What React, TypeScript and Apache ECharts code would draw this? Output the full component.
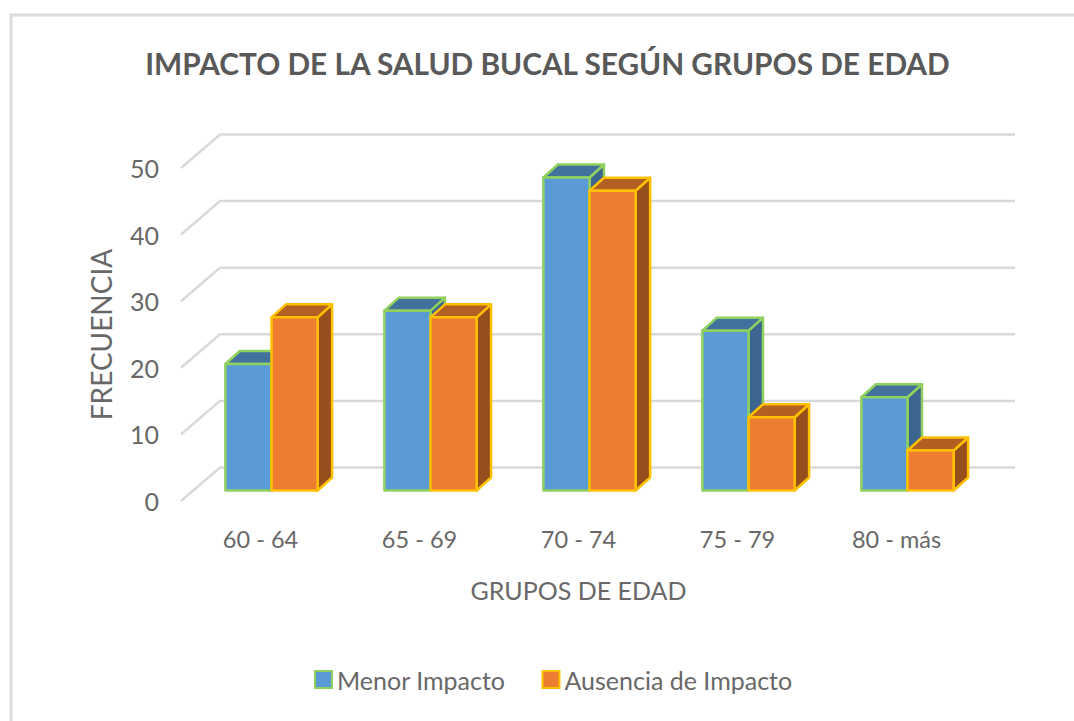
import React, { useEffect, useRef } from "react";
import * as echarts from "echarts";

const categories = ["60 - 64", "65 - 69", "70 - 74", "75 - 79", "80 - más"];
const menorImpacto = [19, 27, 47, 24, 14];
const ausenciaImpacto = [26, 26, 45, 11, 6];
const gridTicks = [0, 10, 20, 30, 40, 50];
const FONT = "Lato, 'Open Sans', sans-serif";
const LABEL = "#686868";

const WALL_DX = 39;
const WALL_DY = 33.5;
const BAR_PLANE_DX = 11;
const BAR_PLANE_DY = 10.5;
const BAR_DEPTH_DX = 14.5;
const BAR_DEPTH_DY = 13;

function barRenderer(slot: number, face: string, top: string, side: string, border: string) {
  return (params: any, api: any) => {
    const idx = api.value(0);
    const [cx, y0] = api.coord([idx, 0]);
    const [, y1] = api.coord([idx, api.value(1)]);
    const w = api.size([1, 0])[0] * 0.29;
    const left = cx + BAR_PLANE_DX + (slot === 0 ? -w : 0);
    const right = left + w;
    const bottom = y0 - BAR_PLANE_DY;
    const up = y1 - BAR_PLANE_DY;
    const dx = BAR_DEPTH_DX;
    const dy = BAR_DEPTH_DY;
    const line = { stroke: border, lineWidth: 2.5, lineJoin: "round" };
    return {
      type: "group",
      children: [
        {
          type: "polygon",
          shape: { points: [[right, bottom], [right + dx, bottom - dy], [right + dx, up - dy], [right, up]] },
          style: { fill: side, ...line },
        },
        {
          type: "polygon",
          shape: { points: [[left, up], [left + dx, up - dy], [right + dx, up - dy], [right, up]] },
          style: { fill: top, ...line },
        },
        {
          type: "rect",
          shape: { x: left, y: up, width: w, height: bottom - up },
          style: { fill: face, ...line },
        },
      ],
    };
  };
}

function wallRenderer(params: any, api: any) {
  const cs = params.coordSys;
  const [, y] = api.coord([0, api.value(0)]);
  return {
    type: "polyline",
    shape: {
      points: [
        [cs.x, y],
        [cs.x + WALL_DX, y - WALL_DY],
        [cs.x + cs.width + WALL_DX, y - WALL_DY],
      ],
    },
    style: { fill: "none", stroke: "#d9d9d9", lineWidth: 2.5 },
  };
}

export default function App() {
  const ref = useRef<HTMLDivElement>(null);
  useEffect(() => {
    const chart = echarts.init(ref.current!, undefined, { renderer: "svg" });
    chart.setOption({
      animation: false,
      backgroundColor: "#ffffff",
      title: {
        text: "IMPACTO DE LA SALUD BUCAL SEGÚN GRUPOS DE EDAD",
        left: 542.5,
        top: 43,
        textAlign: "center",
        textStyle: { fontFamily: FONT, fontSize: 29.8, fontWeight: "bold", color: "#595959" },
      },
      legend: {
        data: ["Menor Impacto", "Ausencia de Impacto"],
        top: 662,
        left: 309,
        icon: "rect",
        itemWidth: 17,
        itemHeight: 17,
        itemGap: 36,
        textStyle: { fontFamily: FONT, fontSize: 25, color: LABEL, padding: [0, 0, 0, 0] },
      },
      grid: { left: 181, width: 795, top: 168, height: 333 },
      xAxis: {
        type: "category",
        data: categories,
        name: "GRUPOS DE EDAD",
        nameLocation: "middle",
        nameGap: 76,
        nameTextStyle: { fontFamily: FONT, fontSize: 25, color: LABEL },
        axisLine: { show: false },
        axisTick: { show: false },
        axisLabel: { fontFamily: FONT, fontSize: 23.5, color: LABEL, margin: 26 },
      },
      yAxis: {
        type: "value",
        min: 0,
        max: 50,
        interval: 10,
        name: "FRECUENCIA",
        nameLocation: "middle",
        nameGap: 66,
        nameRotate: 90,
        nameTextStyle: { fontFamily: FONT, fontSize: 28, color: LABEL },
        axisLine: { show: false },
        axisTick: { show: false },
        splitLine: { show: false },
        axisLabel: { fontFamily: FONT, fontSize: 25, color: LABEL, margin: 22 },
      },
      series: [
        {
          type: "custom",
          name: "wall",
          renderItem: wallRenderer,
          data: gridTicks.map((v) => [v]),
          encode: { y: 0 },
          silent: true,
          z: 1,
        },
        {
          type: "custom",
          name: "Menor Impacto",
          renderItem: barRenderer(0, "#5b9bd5", "#41719c", "#3c6690", "#8fd05f"),
          data: menorImpacto.map((v, i) => [i, v]),
          encode: { x: 0, y: 1 },
          itemStyle: { color: "#5b9bd5", borderColor: "#8fd05f", borderWidth: 2.5 },
          z: 2,
        },
        {
          type: "custom",
          name: "Ausencia de Impacto",
          renderItem: barRenderer(1, "#ed7d31", "#b15f22", "#964f1c", "#ffc000"),
          data: ausenciaImpacto.map((v, i) => [i, v]),
          encode: { x: 0, y: 1 },
          itemStyle: { color: "#ed7d31", borderColor: "#ffc000", borderWidth: 2.5 },
          z: 3,
        },
      ],
      graphic: [
        {
          type: "polyline",
          shape: { points: [[11, 721], [11, 15], [1074, 15]] },
          style: { fill: "none", stroke: "#dcdcdc", lineWidth: 3 },
          silent: true,
        },
      ],
    });
    return () => chart.dispose();
  }, []);
  return <div ref={ref} style={{ position: "fixed", left: 0, top: 0, width: 1074, height: 721 }} />;
}
